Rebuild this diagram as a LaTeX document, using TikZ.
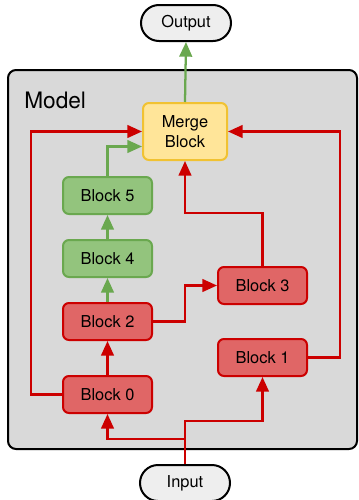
\documentclass[tikz,border=0pt]{standalone}
\usepackage{fontspec}
\setmainfont{TeX Gyre Heros}
\usetikzlibrary{arrows.meta,calc}
\definecolor{redline}{HTML}{CC0000}
\definecolor{redfill}{HTML}{E06666}
\definecolor{greenline}{HTML}{6AA84F}
\definecolor{greenfill}{HTML}{93C47D}
\definecolor{mergefill}{HTML}{FFE599}
\definecolor{mergeline}{HTML}{F1C232}
\definecolor{modelfill}{HTML}{D9D9D9}
\definecolor{pillfill}{HTML}{EEEEEE}
\begin{document}
\begin{tikzpicture}[x=0.75pt,y=-0.75pt,
  blk/.style={rectangle, rounded corners=4.5pt, line width=1.5pt,
    minimum width=66.75pt, minimum height=27.75pt, inner sep=0pt,
    align=center, font=\fontsize{12.3}{15.5}\selectfont},
  redblk/.style={blk, draw=redline, fill=redfill},
  greenblk/.style={blk, draw=greenline, fill=greenfill},
  mergeblk/.style={blk, draw=mergeline, fill=mergefill, minimum width=63pt, minimum height=42.75pt},
  pill/.style={rectangle, rounded corners=13.5pt, draw=black, line width=1.5pt,
    fill=pillfill, minimum width=67.5pt, minimum height=27pt, inner sep=0pt,
    font=\fontsize{12.3}{15.5}\selectfont},
  redarrow/.style={draw=redline, line width=1.7pt, -{Triangle[length=11pt,width=9.5pt]}},
  greenarrow/.style={draw=greenline, line width=1.7pt, -{Triangle[length=11pt,width=9.5pt]}}
]
\useasboundingbox (0,0) rectangle (358,500);

% model container
\draw[rounded corners=6pt, fill=modelfill, line width=1.5pt] (8,70) rectangle (357,449);
\node[anchor=base west, inner sep=0pt, font=\fontsize{17}{20}\selectfont] (modellabel) at (24,108) {Model};

% nodes
\node[pill] (out) at (186,23) {Output};
\node[pill] (in) at (185,483) {Input};
\node[mergeblk] (merge) at (185,131.5) {Merge\\Block};
\node[greenblk] (b5) at (107.5,195.5) {Block 5};
\node[greenblk] (b4) at (107.5,258.5) {Block 4};
\node[redblk] (b2) at (107.5,321.5) {Block 2};
\node[redblk] (b0) at (107.5,394.5) {Block 0};
\node[redblk] (b3) at (262.5,285.5) {Block 3};
\node[redblk] (b1) at (262.5,357.5) {Block 1};

% routing coordinates
\coordinate (lbus) at (31,131);
\coordinate (rbus) at (340,131);
\coordinate (j3) at (262.5,213);
\coordinate (j0) at (107.5,439);
\coordinate (j1) at (262.5,421);

% connectors
\draw[greenarrow] (merge.north) -- (out.south);
\draw[greenarrow] (b4.north) -- (b5.south);
\draw[greenarrow] (b2.north) -- (b4.south);
\draw[greenarrow] (b5.north) |- ($(merge.west)+(0,15)$);
\draw[redarrow] (b0.north) -- (b2.south);
\draw[redarrow] (b0.west) -- (b0.west -| lbus) |- (merge.west);
\draw[redarrow] (b2.east) -- (b2.east -| merge) |- (b3.west);
\draw[redarrow] (b3.north) -- (j3) -| (merge.south);
\draw[redarrow] (b1.east) -- (b1.east -| rbus) |- (merge.east);
\draw[redarrow] (in.north) -- (in.north |- j0) -| (b0.south);
\draw[redarrow] (in.north) -- (in.north |- j1) -| (b1.south);
\end{tikzpicture}
\end{document}
